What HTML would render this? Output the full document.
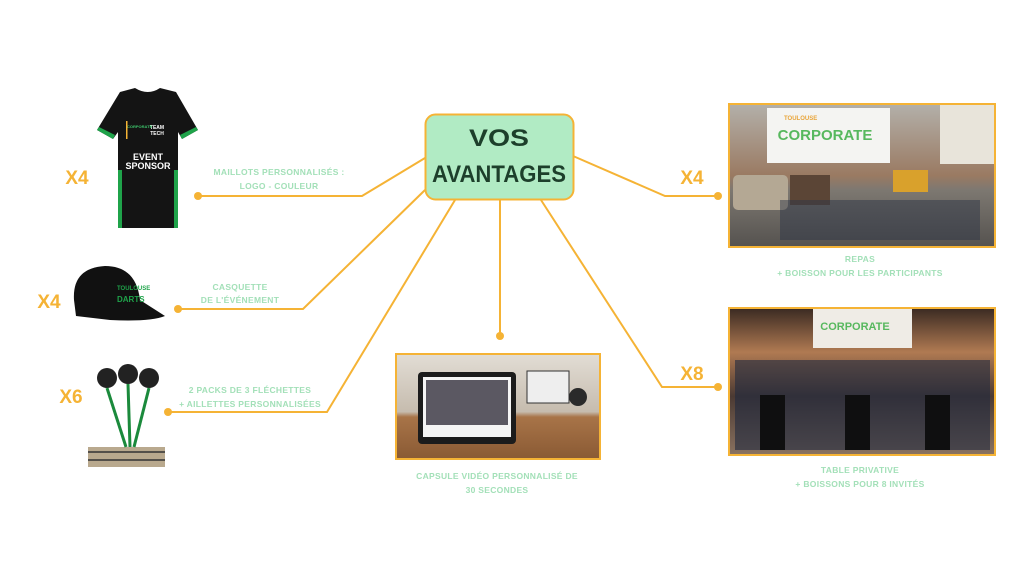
<!DOCTYPE html>
<html><head><meta charset="utf-8"><style>
html,body{margin:0;padding:0;background:#fff;}
svg{display:block;}
.lb{font-family:"Liberation Sans",sans-serif;font-weight:bold;font-size:8.5px;fill:#a3e0b8;text-anchor:middle;letter-spacing:0.3px}
.xl{font-family:"Liberation Sans",sans-serif;font-weight:bold;font-size:19px;fill:#f5b335;text-anchor:middle}
</style></head><body>
<svg width="1024" height="576" viewBox="0 0 1024 576" xmlns="http://www.w3.org/2000/svg">
<rect width="1024" height="576" fill="#fff"/>
<g stroke="#f5b335" stroke-width="2" fill="none">
<polyline points="198,196 362,196 425,158"/>
<polyline points="178,309 303,309 425,190"/>
<polyline points="168,412 327,412 455,200"/>
<polyline points="500,200 500,336"/>
<polyline points="541,200 662,387 718,387"/>
<polyline points="573,156 665,196 718,196"/>
</g>
<g fill="#f5b335">
<circle cx="198" cy="196" r="4"/><circle cx="178" cy="309" r="4"/><circle cx="168" cy="412" r="4"/>
<circle cx="500" cy="336" r="4"/><circle cx="718" cy="387" r="4"/><circle cx="718" cy="196" r="4"/>
</g>
<rect x="425.5" y="114.5" width="148" height="85" rx="10" fill="#b1ebc4" stroke="#f5b335" stroke-width="2"/>
<text x="499" y="146" font-family="Liberation Sans,sans-serif" font-weight="bold" font-size="24" fill="#1d3f2b" text-anchor="middle" textLength="60" lengthAdjust="spacingAndGlyphs">VOS</text>
<text x="499" y="182" font-family="Liberation Sans,sans-serif" font-weight="bold" font-size="24" fill="#1d3f2b" text-anchor="middle" textLength="134" lengthAdjust="spacingAndGlyphs">AVANTAGES</text>

<!-- shirt -->
<path d="M120,92 L135,88 Q148,96 160,88 L176,92 L198,130 L182,139 L178,132 L178,228 L118,228 L118,132 L113,139 L97,130 Z" fill="#141414"/>
<path d="M97,130 L113,139 L115,135 L99,127Z M198,130 L182,139 L180,135 L196,127Z" fill="#1fa34a"/>
<rect x="118" y="170" width="4" height="58" fill="#1fa34a"/><rect x="174" y="170" width="4" height="58" fill="#1fa34a"/>
<text x="148" y="160" font-family="Liberation Sans,sans-serif" font-weight="bold" font-size="9" fill="#fff" text-anchor="middle">EVENT</text>
<text x="148" y="169" font-family="Liberation Sans,sans-serif" font-weight="bold" font-size="9" fill="#fff" text-anchor="middle">SPONSOR</text>
<text x="157" y="129" font-family="Liberation Sans,sans-serif" font-weight="bold" font-size="5" fill="#fff" text-anchor="middle">TEAM</text>
<text x="157" y="135" font-family="Liberation Sans,sans-serif" font-weight="bold" font-size="5" fill="#fff" text-anchor="middle">TECH</text>
<text x="127" y="128" font-family="Liberation Sans,sans-serif" font-weight="bold" font-size="4" fill="#3cc36a">CORPORATE</text>
<rect x="126" y="121" width="1.5" height="18" fill="#f5b335"/>
<!-- cap -->
<path d="M74,300 Q72,268 105,266 Q136,266 140,300 L165,316 Q150,322 110,320 L76,316 Z" fill="#111"/>
<text x="117" y="290" font-family="Liberation Sans,sans-serif" font-weight="bold" font-size="6" fill="#1fa34a">TOULOUSE</text>
<text x="117" y="302" font-family="Liberation Sans,sans-serif" font-weight="bold" font-size="8" fill="#1fa34a">DARTS</text>
<!-- darts -->
<rect x="88" y="447" width="77" height="20" fill="#b9a98e"/>
<path d="M88,452 L165,452 M88,460 L165,460" stroke="#333" stroke-width="1.5"/>
<g fill="#222"><circle cx="107" cy="378" r="10"/><circle cx="128" cy="374" r="10"/><circle cx="149" cy="378" r="10"/></g>
<g stroke="#1b8a3c" stroke-width="3"><line x1="107" y1="388" x2="126" y2="447"/><line x1="128" y1="384" x2="130" y2="447"/><line x1="149" y1="388" x2="134" y2="447"/></g>

<text class="xl" x="77" y="184">X4</text>
<text class="xl" x="49" y="308">X4</text>
<text class="xl" x="71" y="403">X6</text>
<text class="xl" x="692" y="184">X4</text>
<text class="xl" x="692" y="380">X8</text>

<text class="lb" x="279" y="175">MAILLOTS PERSONNALISÉS :</text>
<text class="lb" x="279" y="189">LOGO - COULEUR</text>
<text class="lb" x="240" y="290">CASQUETTE</text>
<text class="lb" x="240" y="303">DE L'ÉVÉNEMENT</text>
<text class="lb" x="250" y="393">2 PACKS DE 3 FLÉCHETTES</text>
<text class="lb" x="250" y="407">+ AILLETTES PERSONNALISÉES</text>
<text class="lb" x="497" y="479">CAPSULE VIDÉO PERSONNALISÉ  DE</text>
<text class="lb" x="497" y="493">30 SECONDES</text>
<text class="lb" x="860" y="262">REPAS</text>
<text class="lb" x="860" y="276">+ BOISSON POUR LES PARTICIPANTS</text>
<text class="lb" x="860" y="473">TABLE PRIVATIVE</text>
<text class="lb" x="860" y="487">+ BOISSONS POUR  8 INVITÉS</text>

<defs>
<linearGradient id="sky" x1="0" y1="0" x2="0" y2="1"><stop offset="0" stop-color="#b3b0aa"/><stop offset="0.5" stop-color="#9a7a62"/><stop offset="0.6" stop-color="#7d7871"/><stop offset="1" stop-color="#55524f"/></linearGradient>
<linearGradient id="hall" x1="0" y1="0" x2="0" y2="1"><stop offset="0" stop-color="#3a2a22"/><stop offset="0.3" stop-color="#b07a52"/><stop offset="0.6" stop-color="#4b3a33"/><stop offset="1" stop-color="#8a7260"/></linearGradient>
<linearGradient id="desk" x1="0" y1="0" x2="0" y2="1"><stop offset="0" stop-color="#e2ddd5"/><stop offset="0.55" stop-color="#c6bcae"/><stop offset="0.6" stop-color="#a87448"/><stop offset="1" stop-color="#8a5a34"/></linearGradient>
</defs>
<rect x="729" y="104" width="266" height="143" fill="url(#sky)"/>
<rect x="940" y="104" width="55" height="60" fill="#e8e4da"/>
<rect x="767" y="108" width="123" height="55" fill="#f4f4f2"/>
<text x="825" y="140" font-family="Liberation Sans,sans-serif" font-weight="bold" font-size="15" fill="#57b85e" text-anchor="middle">CORPORATE</text>
<text x="784" y="120" font-family="Liberation Sans,sans-serif" font-weight="bold" font-size="6" fill="#e9a53a">TOULOUSE</text>
<rect x="733" y="175" width="55" height="35" rx="5" fill="#b4a894"/>
<rect x="790" y="175" width="40" height="30" fill="#5b4536"/>
<rect x="893" y="170" width="35" height="22" fill="#d9a12c"/>
<rect x="780" y="200" width="200" height="40" fill="#2d3545" opacity="0.5"/>
<rect x="729" y="104" width="266" height="143" fill="none" stroke="#f5b335" stroke-width="2"/>
<rect x="729" y="308" width="266" height="147" fill="url(#hall)"/>
<rect x="813" y="309" width="99" height="39" fill="#efece6"/>
<text x="855" y="330" font-family="Liberation Sans,sans-serif" font-weight="bold" font-size="11" fill="#57b85e" text-anchor="middle">CORPORATE</text>
<rect x="735" y="360" width="255" height="90" fill="#1f2a40" opacity="0.6"/>
<g fill="#0f0f10"><rect x="760" y="395" width="25" height="55"/><rect x="845" y="395" width="25" height="55"/><rect x="925" y="395" width="25" height="55"/></g>
<rect x="729" y="308" width="266" height="147" fill="none" stroke="#f5b335" stroke-width="2"/>
<rect x="396" y="354" width="204" height="105" fill="url(#desk)"/>
<rect x="418" y="372" width="98" height="72" rx="4" fill="#1c1c1c"/>
<rect x="423" y="377" width="88" height="60" fill="#f5f5f5"/>
<rect x="426" y="380" width="82" height="45" fill="#5b5862"/>
<rect x="527" y="371" width="42" height="32" fill="#eee" stroke="#333"/>
<circle cx="578" cy="397" r="9" fill="#2a2a2a"/>
<rect x="396" y="354" width="204" height="105" fill="none" stroke="#f5b335" stroke-width="2"/>
</svg>
</body></html>
